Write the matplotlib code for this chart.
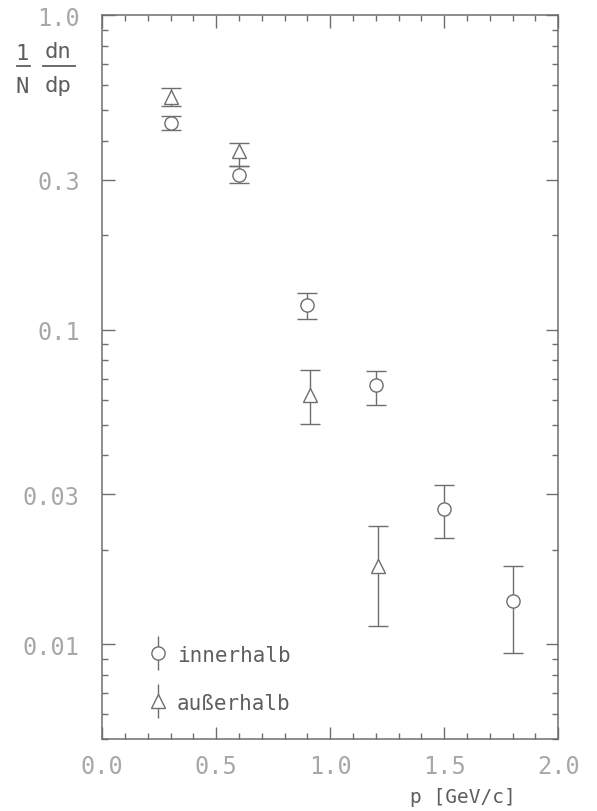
''' momentum spectra inside / outside, log scale '''
import matplotlib
matplotlib.use('Agg')
import matplotlib.pyplot as plt
from matplotlib.lines import Line2D
from matplotlib.ticker import FixedLocator, LogLocator, NullFormatter, MultipleLocator

# data: 1/N dn/dp vs p [GeV/c]
p_in = [0.3, 0.6, 0.9, 1.2, 1.5, 1.8]
y_in = [0.455, 0.312, 0.120, 0.067, 0.0269, 0.0137]
up_in = [0.024, 0.021, 0.011, 0.0072, 0.0052, 0.0041]
lo_in = [0.022, 0.018, 0.012, 0.0091, 0.0051, 0.0043]

p_out = [0.3, 0.6, 0.91, 1.21]
y_out = [0.550, 0.372, 0.0623, 0.0178]
up_out = [0.037, 0.022, 0.012, 0.006]
lo_out = [0.035, 0.039, 0.012, 0.0064]

yticks = [0.01, 0.03, 0.1, 0.3, 1.0]
ytick_labels = ['0.01', '0.03', '0.1', '0.3', '1.0']
xticks = [0.0, 0.5, 1.0, 1.5, 2.0]
labels = ['innerhalb', 'außerhalb']

line_col = '#6e6e6e'
tick_col = '#a8a8a8'
text_col = '#5e5e5e'
mono = 'DejaVu Sans Mono'

fig = plt.figure(figsize=(5.97, 8.12), dpi=100)
ax = fig.add_axes([0.171, 0.0887, 0.764, 0.891])

style = dict(color=line_col, ecolor=line_col, elinewidth=1.0, capsize=7,
             capthick=1.0, markerfacecolor='white', markeredgecolor=line_col,
             markeredgewidth=1.0, linestyle='none')
ax.errorbar(p_in, y_in, yerr=[lo_in, up_in], fmt='o', markersize=9.5, **style)
ax.errorbar(p_out, y_out, yerr=[lo_out, up_out], fmt='^', markersize=9.5, **style)

ax.set_yscale('log')
ax.set_xlim(0, 2.0)
ax.set_ylim(0.005, 1.0)

ax.yaxis.set_major_locator(FixedLocator(yticks))
ax.set_yticklabels(ytick_labels)
ax.yaxis.set_minor_locator(LogLocator(base=10, subs=range(2, 10)))
ax.yaxis.set_minor_formatter(NullFormatter())
ax.xaxis.set_major_locator(FixedLocator(xticks))
ax.set_xticklabels(['%.1f' % t for t in xticks])
ax.xaxis.set_minor_locator(MultipleLocator(0.1))

for s in ax.spines.values():
    s.set_color(line_col)
    s.set_linewidth(1.1)
ax.tick_params(which='both', direction='in', top=True, right=True, color=line_col)
ax.tick_params(which='major', length=9, width=1.0)
ax.tick_params(which='minor', length=4.5, width=1.0)
ax.tick_params(axis='y', which='major', pad=16, labelsize=17, labelcolor=tick_col)
ax.tick_params(axis='x', which='major', pad=11, labelsize=17, labelcolor=tick_col)
for lab in ax.get_xticklabels() + ax.get_yticklabels():
    lab.set_family(mono)

ax.set_xlabel('p [GeV/c]', family=mono, fontsize=14, color=text_col)
ax.xaxis.set_label_coords(0.79, -0.066)

# y label written as two stacked fractions
fkw = dict(family=mono, fontsize=16, color=text_col, ha='center', va='center')
fig.text(22 / 597, 1 - 54 / 812, '1', **fkw)
fig.text(22 / 597, 1 - 87 / 812, 'N', **fkw)
fig.text(58 / 597, 1 - 52 / 812, 'dn', **fkw)
fig.text(58 / 597, 1 - 86 / 812, 'dp', **fkw)
for x0, x1 in [(17, 30), (43, 75)]:
    fig.add_artist(Line2D([x0 / 597, x1 / 597], [1 - 67 / 812] * 2,
                          color=text_col, linewidth=1.3, transform=fig.transFigure))

# legend: marker with a plain vertical bar through it
bar = Line2D([], [], marker='|', markersize=24, markeredgewidth=1.0,
             color=line_col, linestyle='none')
h_in = Line2D([], [], marker='o', markersize=9.5, markerfacecolor='white',
              markeredgecolor=line_col, linestyle='none')
h_out = Line2D([], [], marker='^', markersize=9.5, markerfacecolor='white',
               markeredgecolor=line_col, linestyle='none')
leg = ax.legend([(bar, h_in), (bar, h_out)], labels, loc='lower left',
                bbox_to_anchor=(0.08, 0.022), frameon=False, handlelength=0.9,
                handletextpad=0.45, labelspacing=1.35, borderpad=0,
                prop=dict(family=mono, size=15))
for t in leg.get_texts():
    t.set_color(text_col)

fig.savefig('out.png', dpi=100, facecolor='white')
